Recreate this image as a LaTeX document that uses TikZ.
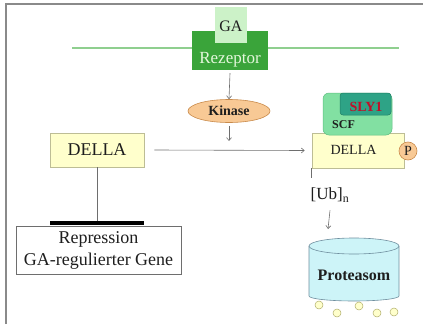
\documentclass[tikz,border=0pt]{standalone}
\usepackage{fontspec}
\setmainfont{Liberation Serif}
\usetikzlibrary{shapes.geometric,arrows.meta}
\definecolor{framegray}{HTML}{8A8A8A}
\definecolor{ink}{HTML}{1E1E1E}
\definecolor{membrane}{HTML}{8FCF8F}
\definecolor{rezgreen}{HTML}{3AA43A}
\definecolor{rezink}{HTML}{E4F7DC}
\definecolor{gapale}{HTML}{CCF2C8}
\definecolor{dellafill}{HTML}{FFFFCC}
\definecolor{dellaline}{HTML}{BDBD95}
\definecolor{kinfill}{HTML}{F8C995}
\definecolor{kinline}{HTML}{C98A4A}
\definecolor{scffill}{HTML}{82E0A2}
\definecolor{scfline}{HTML}{5EBE80}
\definecolor{slyfill}{HTML}{2EA386}
\definecolor{slyline}{HTML}{1F7F66}
\definecolor{slyink}{HTML}{C0102A}
\definecolor{protfill}{HTML}{CDF4F8}
\definecolor{protline}{HTML}{6F8E9E}
\definecolor{ballline}{HTML}{B0AE6A}
\definecolor{linkgray}{HTML}{6E6E6E}
\tikzset{
  link/.style={draw=linkgray, line width=0.6pt},
  arr/.style={link, -{Straight Barb[length=3pt,width=5pt]}},
  dellabox/.style={rectangle, draw=dellaline, fill=dellafill, line width=0.6pt, text=ink, inner sep=0pt},
  repbox/.style={rectangle, draw=linkgray, fill=white, line width=0.6pt, text=ink, align=center, inner sep=0pt,
    font=\fontsize{18}{22}\selectfont},
  kinbox/.style={ellipse, draw=kinline, fill=kinfill, line width=0.6pt, text=ink, inner sep=0pt,
    minimum width=82pt, minimum height=23pt, font=\bfseries\fontsize{14}{16}\selectfont},
  ball/.style={circle, draw=ballline, fill=dellafill, line width=0.5pt, minimum size=8pt, inner sep=0pt},
  lab/.style={text=ink, inner sep=0pt},
}

\begin{document}
\begin{tikzpicture}[x=1pt,y=-1pt]
  \useasboundingbox (0,0) rectangle (423,324);
  % frame and membrane
  \draw[framegray, line width=1.2pt] (6,324) -- (6,4) -- (423,4);
  \draw[membrane, line width=1.3pt] (72,48) -- (399,48);
  % receptor with GA
  \node[rectangle, fill=rezgreen, minimum width=76pt, minimum height=39pt, inner sep=0pt] (rez) at (230,50.5) {};
  \node[rectangle, fill=gapale, minimum width=32pt, minimum height=36pt, inner sep=0pt] (ga) at (231,25) {};
  \node[lab, font=\fontsize{16}{18}\selectfont] (gatxt) at (231,26) {GA};
  \node[text=rezink, inner sep=0pt, font=\fontsize{17}{19}\selectfont] (reztxt) at (230,60) {Rezeptor};
  % kinase
  \node[kinbox] (kin) at (229,111) {Kinase};
  \coordinate (kd) at (229,141);
  \draw[arr] ([yshift=-3pt]rez.south) -- (kin.north);
  \draw[arr] ([yshift=-3pt]kin.south) -- (kd);
  % DELLA left and repression
  \node[dellabox, minimum width=94pt, minimum height=34pt, font=\fontsize{18}{20}\selectfont] (dl) at (97,150) {DELLA};
  \node[rectangle, fill=black, minimum width=94pt, minimum height=4pt, inner sep=0pt] (blk) at (97,223) {};
  \node[repbox, minimum width=165pt, minimum height=48pt] (rep) at (98.5,250) {Repression\\GA-regulierter Gene};
  \draw[link] (dl.south) -- (blk.north);
  % DELLA right with SCF, SLY1, P
  \node[dellabox, minimum width=92pt, minimum height=35pt] (dr) at (358,150.5) {};
  \node[lab, font=\fontsize{14}{16}\selectfont] (drtxt) at (353.5,150) {DELLA};
  \node[rectangle, rounded corners=6pt, draw=scfline, fill=scffill, line width=0.5pt, minimum width=69pt, minimum height=42pt] (scf) at (357.5,114) {};
  \node[rectangle, rounded corners=3pt, draw=slyline, fill=slyfill, line width=0.5pt, minimum width=51pt, minimum height=22pt] (sly) at (365.5,104) {};
  \node[text=slyink, inner sep=0pt, font=\bfseries\fontsize{14}{16}\selectfont] (slytxt) at (366,107) {SLY1};
  \node[lab, font=\bfseries\fontsize{12}{14}\selectfont] (scftxt) at (343.5,124.5) {SCF};
  \node[circle, draw=kinline, fill=kinfill, line width=0.6pt, minimum size=18pt, inner sep=0pt, text=ink,
    font=\fontsize{14}{16}\selectfont] (p) at (408,151) {P};
  \draw[link] (dr.south west) -- ++(0,10);
  \draw[arr] ([xshift=10pt]dl.east) -- ([xshift=-7pt]dr.west);
  % ubiquitin and proteasome
  \node[lab, font=\fontsize{17}{19}\selectfont] (ub) at (330,195) {[Ub]\textsubscript{n}};
  \draw[fill=protfill, draw=protline, line width=0.6pt] (309,246) -- (309,296)
    arc[start angle=180, end angle=360, x radius=45pt, y radius=5pt] -- (399,246);
  \draw[fill=protfill, draw=protline, line width=0.6pt] (354,246) ellipse[x radius=45pt, y radius=8pt];
  \node[lab, font=\bfseries\fontsize{16}{18}\selectfont] (prot) at (354,275) {Proteasom};
  \coordinate (pt) at (328,229);
  \draw[arr] ([yshift=-8pt]ub.south) -- (pt);
  \foreach \bx/\by [count=\i] in {319/305, 337/313, 359/306, 377/313, 394/312}
    \node[ball] (b\i) at (\bx,\by) {};
\end{tikzpicture}
\end{document}
